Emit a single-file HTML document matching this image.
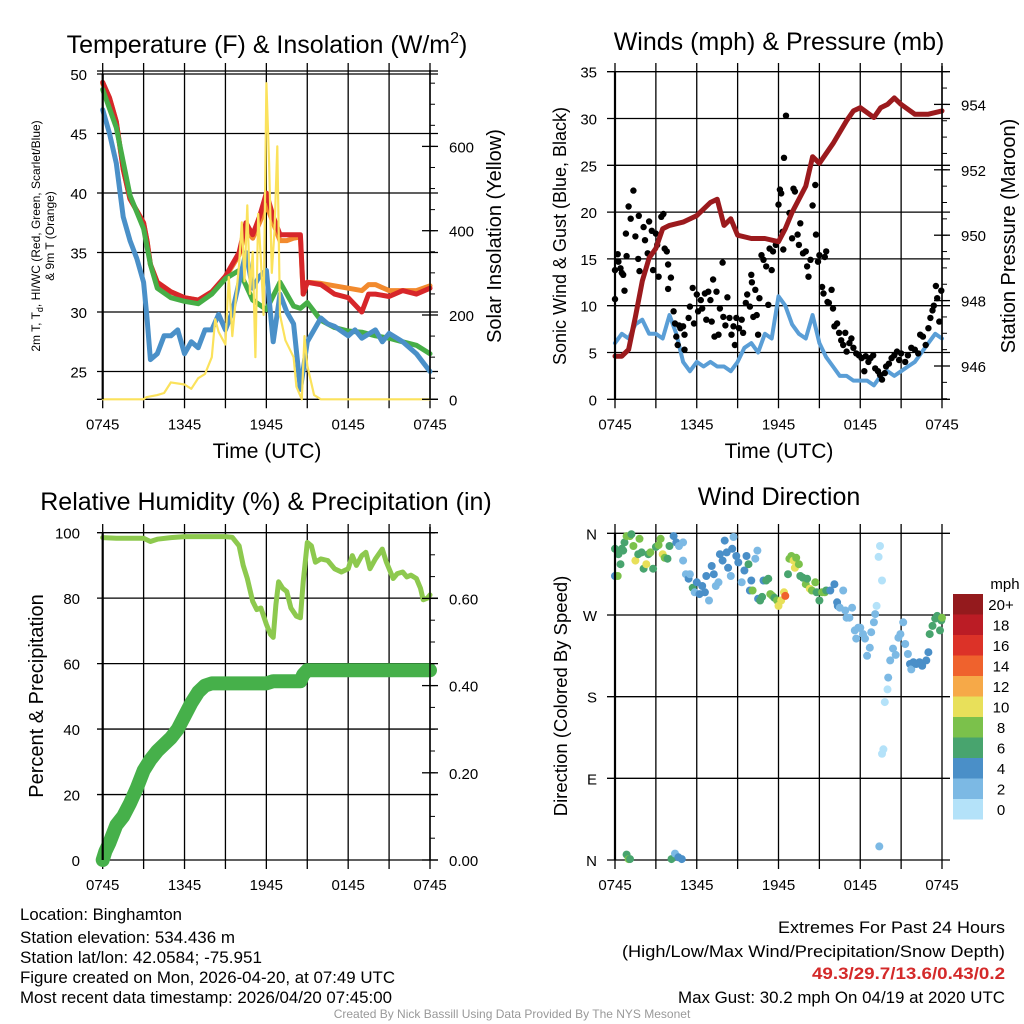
<!DOCTYPE html>
<html><head><meta charset="utf-8"><style>
html,body{margin:0;padding:0;background:#fff;}
svg{display:block;font-family:"Liberation Sans",Arial,sans-serif;}
</style></head><body>
<svg id="s" width="1024" height="1024" viewBox="0 0 1024 1024">
<g id="grid"></g>
<g id="marks"></g>
<g id="axes"></g>
<g font-size="25" text-anchor="middle" fill="#000">
<text x="267" y="53">Temperature (F) &amp; Insolation (W/m<tspan dy="-10" font-size="16">2</tspan><tspan dy="10">)</tspan></text>
<text x="779" y="50">Winds (mph) &amp; Pressure (mb)</text>
<text x="266" y="510">Relative Humidity (%) &amp; Precipitation (in)</text>
<text x="779" y="505">Wind Direction</text>
</g>
<g font-size="21" text-anchor="middle" fill="#000">
<text x="267" y="458">Time (UTC)</text>
<text x="779" y="458">Time (UTC)</text>
<text transform="translate(501,236) rotate(-90)" font-size="20">Solar Insolation (Yellow)</text>
<text transform="translate(566,236) rotate(-90)" font-size="18">Sonic Wind &amp; Gust (Blue, Black)</text>
<text transform="translate(1015,236) rotate(-90)" font-size="20">Station Pressure (Maroon)</text>
<text transform="translate(43,696) rotate(-90)" font-size="20">Percent &amp; Precipitation</text>
<text transform="translate(567,696) rotate(-90)" font-size="18.5">Direction (Colored By Speed)</text>
<text transform="translate(40,236) rotate(-90)" font-size="12">2m T, T<tspan dy="3" font-size="9">d</tspan><tspan dy="-3">, HI/WC (Red, Green, Scarlet/Blue)</tspan></text>
<text transform="translate(54,236) rotate(-90)" font-size="12">&amp; 9m T (Orange)</text>
<text x="1005" y="589" font-size="15">mph</text>
</g>
<g font-size="17" fill="#000">
<text x="20" y="920" textLength="162" lengthAdjust="spacingAndGlyphs">Location: Binghamton</text>
<text x="20" y="943" textLength="215" lengthAdjust="spacingAndGlyphs">Station elevation: 534.436 m</text>
<text x="20" y="963" textLength="242" lengthAdjust="spacingAndGlyphs">Station lat/lon: 42.0584; -75.951</text>
<text x="20" y="983" textLength="375" lengthAdjust="spacingAndGlyphs">Figure created on Mon, 2026-04-20, at 07:49 UTC</text>
<text x="20" y="1003" textLength="372" lengthAdjust="spacingAndGlyphs">Most recent data timestamp: 2026/04/20 07:45:00</text>
<g text-anchor="end">
<text x="1005" y="933" textLength="227" lengthAdjust="spacingAndGlyphs">Extremes For Past 24 Hours</text>
<text x="1005" y="957" textLength="383" lengthAdjust="spacingAndGlyphs">(High/Low/Max Wind/Precipitation/Snow Depth)</text>
<text x="1005" y="979" textLength="193" lengthAdjust="spacingAndGlyphs" fill="#d42a2a" font-weight="bold">49.3/29.7/13.6/0.43/0.2</text>
<text x="1005" y="1003" textLength="327" lengthAdjust="spacingAndGlyphs">Max Gust: 30.2 mph On 04/19 at 2020 UTC</text>
</g>
<text x="512" y="1018" font-size="12" fill="#999" text-anchor="middle">Created By Nick Bassill Using Data Provided By The NYS Mesonet</text>
</g>
</svg>
<script>
// ---------- data ----------
const xTickLabels = ["0745","1345","1945","0145","0745"];
const tempTimes = [0,0.5,1,1.5,2,2.5,3,3.25,3.5,4,5,6,7,8,9,10,10.5,11,11.5,12,12.5,13,13.5,14,14.5,14.7,15,16,17,18,19,19.5,20,21,22,23,24];
const redTemp =  [49.3,48,46,42,39.5,38.5,37.5,36,34,32.5,31.7,31.2,31.0,31.7,33,35,37.5,36.5,38,40,38,36.5,36.5,36.5,36.5,31.5,32.5,32.3,31.5,31.2,30,31.5,31.5,31.3,31.8,31.5,32];
const orangeTemp=[49.2,48,46,42,39.5,38.5,37.5,36,34,32.5,31.7,31.2,31.0,31.6,32.9,34.8,37,36.2,37.5,39,37.5,36,36,36.2,36.3,31.5,32.5,32.4,32.2,32,31.8,32.3,32.3,31.8,31.8,31.8,32.2];
const greenTimes=[0,1,2,3,3.5,4,5,6,7,8,9,10,11,12,13,13.5,14,14.5,15,16,17,18,19,20,21,22,23,24];
const greenTemp=[48.7,45.5,39.8,37,34,32,31.2,30.9,30.7,31.5,32.8,33.5,31,30.2,32.5,31.5,30.5,30.3,30.8,29.3,28.7,28.4,28.3,28,27.8,27.5,27.2,26.5];
const blueTimes=[0,0.5,1,1.5,2,2.5,3,3.25,3.5,4,4.5,5,5.5,6,6.5,7,7.5,8,8.5,9,9.5,10,10.5,11,11.5,12,12.5,13,13.5,14,14.5,15,15.5,16,16.5,17,18,18.5,19,20,20.5,21,22,23,24];
const blueTemp=[47,45,42.5,38,36,34.5,32.5,29.5,26,26.5,28,28,28.5,26.5,27.5,27,28.5,28.5,29.8,28.5,30,32.5,35,32,33,33.5,27.5,31.5,30,29,23.5,27.5,28.5,29.5,29,28.8,28,28.5,27.8,28.5,27.5,28.2,27.5,26.5,25];
const solarTimes=[0,3,3.2,4,4.5,5,6,6.5,7,7.5,8,8.25,8.5,9,9.25,9.5,10,10.2,10.4,10.6,10.8,11,11.2,11.4,11.6,11.8,12,12.2,12.4,12.6,12.8,13,13.4,14,14.2,14.6,14.8,15,15.5,16,24];
const solarValues=[0,0,5,10,15,40,35,25,50,60,100,190,160,130,290,150,320,420,280,460,250,350,100,440,330,200,750,560,300,400,600,200,140,100,30,0,150,80,10,0,0];
const pressTimes=[0,0.5,1,1.5,2,2.5,3,3.5,4,5,6,7,7.5,8,8.5,9,10,11,12,12.5,13,14,14.5,15,16,17,17.5,18,19,19.5,20,20.5,21,22,23,24];
const pressValues=[946.3,946.3,946.5,947.5,948.6,949.3,949.6,950.2,950.3,950.4,950.6,951,951.1,950.3,950.5,950,949.9,949.9,949.8,950.2,950.7,951.5,952.4,952.2,952.8,953.5,953.8,953.9,953.6,953.9,954,954.2,954,953.7,953.7,953.8];
const windTimes=[0,0.5,1,1.5,2,2.5,3,3.5,4,4.5,5,5.5,6,6.5,7,7.5,8,8.5,9,9.5,10,10.5,11,11.5,12,12.5,13,13.5,14,14.5,15,15.5,16,16.5,17,17.5,18,18.5,19,19.5,20,20.5,21,21.5,22,22.5,23,23.5,24];
const windValues=[6,7,6.5,8,8.5,7,7,6.5,9,7,4,3,4,3.5,4,3.5,3.5,3,4,5.5,6,5,7,6.5,11,10,8,7,6.5,9,6,4.5,3.5,2.5,2.5,2,2,2,1.5,2.5,3,2.5,3,3.5,4,5,6,7,6.5];
const gustTimes=[0,0,0.2,0.25,0.4,0.5,0.6,0.7,0.85,0.8,1.0,1.15,1.35,1.5,1.7,1.75,1.8,2.1,2.2,2.4,2.5,2.7,2.8,3.0,3.1,3.2,3.4,3.55,3.65,3.8,3.9,3.9,4.1,4.3,4.4,4.5,4.6,4.7,4.8,5.0,5.1,5.1,5.4,5.5,5.7,5.8,6.0,6.1,6.3,6.4,6.6,6.7,6.85,7.0,7.1,7.2,7.3,7.45,7.6,7.7,7.9,7.95,8.1,8.25,8.4,8.55,8.7,8.8,8.9,9.1,9.3,9.4,9.6,9.7,9.9,10.0,10.05,10.15,10.3,10.4,10.5,10.6,10.75,10.9,11.1,11.25,11.35,11.5,11.6,11.8,12.0,12.1,12.2,12.3,12.35,12.4,12.55,12.8,13.0,13.1,13.2,13.4,13.5,13.6,13.8,14.0,14.1,14.2,14.35,14.5,14.7,14.75,14.9,15.0,15.2,15.3,15.4,15.5,15.6,15.7,15.9,16.0,16.1,16.3,16.45,16.6,16.75,16.9,17.0,17.2,17.35,17.5,17.7,17.9,18.1,18.3,18.4,18.6,18.75,18.95,19.1,19.3,19.45,19.6,19.8,19.9,20.1,20.3,20.5,20.7,20.85,21.0,21.3,21.5,21.75,22.0,22.25,22.4,22.6,22.8,23.0,23.15,23.3,23.4,23.55,23.65,23.8,23.95];
const gustValues=[13.8,10.7,15.5,14.7,14,13.5,13.3,11.6,15.3,17.7,20.6,19.3,22.3,17.4,15,19.6,13.7,18.4,17,15.6,19,18,13.8,17.7,16.5,13.1,19.5,19.8,16.1,15.8,14.4,11.8,13,9.4,8.1,6.7,5.8,7.9,7.6,7.8,5.3,6.9,8.7,9.9,11.9,8.1,11.2,9.4,10.6,9.7,11.3,8.5,11.5,10.6,8.3,12.8,6.7,11.5,6.9,9.7,14.6,8.8,7.9,10.9,8.7,6.9,7.8,5.8,8.7,7.6,8.5,7.1,10.3,11.2,9.9,13.3,12.5,8.8,11.7,9.0,6.9,10.8,15.4,14.9,14.2,10.1,16.1,13.8,15.8,16.5,20.8,22.4,22,17.9,16,25.8,30.3,19.9,17.2,22.5,22.2,17.6,16.5,18.8,15.6,15.8,14.2,13.1,14.9,20.7,22.9,17.6,14.7,15.4,12,11.3,15.2,15.8,10.4,10.3,11.7,9.7,7.8,8.1,7.1,6.3,5.8,7.1,5.1,6.0,6.5,5.5,4.9,4.7,4.4,3.0,4.6,4.0,4.4,4.7,3.3,3.0,2.6,2.1,2.8,3.5,3.8,4.4,4.7,5.1,4.2,4.9,4.0,4.7,5.5,5.3,4.9,6.9,6.7,5.8,7.6,8.7,9.5,10,12.1,10.8,8.3,11.6];
const rhTimes=[0,1,2,3,3.5,4,5,6,7,8,9,9.5,10,10.3,10.6,11,11.3,11.6,12,12.3,12.5,12.7,12.9,13.2,13.5,13.8,14.2,14.5,14.7,15,15.3,15.6,16,16.5,17,17.5,18,18.3,18.6,19,19.3,19.6,20,20.5,20.8,21,21.3,21.6,22,22.3,22.6,23,23.3,23.5,23.8,24];
const rhValues=[98.5,98.3,98.3,98.3,97.3,98,98.5,98.8,98.8,98.8,98.8,98.6,96,90,86,79,76.5,77,72,69,68,78,85,83,82,77,74.5,74,85,97,96,91,92,91.5,89,88,89,93,90,93,94,89,92,95,91,89,86,87.5,88,86.5,87,86,83,79.5,80,81];
const precipTimes=[0,0.2,0.5,1,1.5,2,2.5,3,3.5,4,5,5.5,6,6.5,7,7.5,8,12,12.5,14.5,14.7,15,24];
const precipValues=[0,0.02,0.04,0.08,0.1,0.13,0.165,0.205,0.23,0.25,0.28,0.3,0.33,0.36,0.385,0.4,0.405,0.405,0.41,0.41,0.425,0.435,0.435];
const dirTimes=[0,0,0.2,0.25,0.4,0.5,0.6,0.7,0.85,1.1,1.2,1.35,1.5,1.7,1.8,1.95,2.1,2.3,2.45,2.6,2.8,3.0,3.2,3.35,3.5,3.65,3.85,4.0,4.3,4.5,4.7,5.0,5.0,5.2,5.4,5.5,5.7,5.85,6.0,6.2,6.4,6.6,6.7,6.9,7.1,7.25,7.4,7.6,7.7,7.9,8.05,8.2,8.3,8.5,8.6,8.7,8.9,9.05,9.3,9.5,9.65,9.8,9.9,10.0,10.1,10.3,10.45,10.5,10.65,10.8,10.9,11.1,11.25,11.4,11.55,11.7,11.9,12.0,12.2,12.4,12.5,12.7,12.8,12.95,13.1,13.2,13.3,13.5,13.6,13.8,14.0,14.1,14.3,14.45,14.7,14.8,15.0,15.2,15.4,15.5,15.8,16.1,16.3,16.35,16.5,16.75,16.9,17.0,17.2,17.4,17.6,17.7,17.85,18.0,18.2,18.35,18.5,18.7,18.8,19.0,19.1,19.2,19.35,19.45,19.6,20.05,20.0,19.8,19.7,19.6,19.4,20.2,20.4,20.6,20.8,20.95,21.15,21.3,21.5,21.65,21.75,21.9,22.1,22.35,22.55,22.85,23.0,23.1,23.3,23.5,23.65,23.85,23.95,24.0,0.85,1.0,1.1,4.15,4.4,4.65,4.9];
const dirValues=[343,313,313,337,326,343,341,350,357,357,359,346,330,337,354,339,321,326,337,339,321,345,347,354,337,333,332,346,357,350,346,350,330,315,310,315,300,295,306,293,302,295,313,286,324,315,302,306,337,330,352,339,322,313,343,356,335,328,306,319,335,326,297,308,297,332,341,288,286,290,308,308,310,293,291,289,286,280,286,295,291,315,332,335,330,322,333,326,313,311,304,310,299,297,306,295,286,295,295,297,297,304,284,280,278,297,275,267,267,278,253,244,256,256,249,244,225,234,251,262,271,280,334,346,308,201,188,174,122,117,15,220,233,226,245,249,262,238,227,216,210,218,216,218,214,220,229,249,258,266,269,253,264,267,6,1,1,1,7,3,1];
const dirSpeeds=[6,4,8,6,6,6,6,6,8,8,6,8,10,6,8,6,6,10,6,8,6,6,8,8,10,8,6,6,4,4,2,2,2,2,4,2,6,2,4,4,4,4,4,2,4,4,2,2,4,4,4,4,4,2,4,2,4,4,2,4,4,6,4,4,8,2,2,4,6,6,4,6,6,8,8,6,8,10,10,10,14,6,8,8,10,10,8,8,6,6,8,6,10,8,8,6,6,8,8,6,4,4,4,4,2,2,2,2,2,2,2,2,2,2,2,2,2,2,2,2,2,0,0,0,0,2,0,0,0,0,2,2,2,2,2,2,2,2,2,4,2,4,4,4,4,4,4,6,6,6,6,6,6,8,6,8,6,6,2,4,4];
const speedClasses=["0","2","4","6","8","10","12","14","16","18","20+"];
const speedColors=["#b4e2f9","#7cb9e4","#4a8fc8","#48a46e","#7bc14b","#e8e05a","#f6a948","#ef622d","#dc3228","#bb1c25","#941a1d"];
const p1LeftTicks=[25,30,35,40,45,50];
const p1RightTicks=[0,200,400,600];
const p2LeftTicks=[0,5,10,15,20,25,30,35];
const p2RightTicks=[946,948,950,952,954];
const p3LeftTicks=[0,20,40,60,80,100];
const p3RightTicks=[0,0.2,0.4,0.6];
const dirTicks=[0,90,180,270,360];
const dirLabels=["N","E","S","W","N"];

// ---------- scales ----------
const NS="http://www.w3.org/2000/svg";
const G=document.getElementById('grid'),M=document.getElementById('marks'),A=document.getElementById('axes');
function mk(tag,parent,attrs){const e=document.createElementNS(NS,tag);for(const k in attrs)e.setAttribute(k,attrs[k]);parent.appendChild(e);return e;}
const xL=t=>102.7+t*(327.3/24), xR=t=>615+t*(327/24);
const y1L=v=>74+(50-v)*11.9, y1R=v=>399.3-v*0.4215;
const y2L=v=>399.3-v*9.36, y2R=p=>366-(p-946)*32.7;
const y3L=v=>860-v*3.273, y3R=v=>860-v*436;
const y4=d=>860-d*0.9074;
function pts(ts,vs,xf,yf){return ts.map((t,i)=>xf(t).toFixed(1)+','+yf(vs[i]).toFixed(1)).join(' ');}
function line(ts,vs,xf,yf,col,w,name){const e=mk('polyline',M,{points:pts(ts,vs,xf,yf),fill:'none',stroke:col,'stroke-width':w,'stroke-linejoin':'round','stroke-linecap':'round'});

return e;}

function frame(xf,yTop,yBot,hVals,yf,xa,xb,gridTop){
 for(let h=0;h<=24;h+=3){const x=xf(h);const l=mk('line',G,{x1:x,x2:x,y1:gridTop,y2:yBot+9,stroke:'#000','stroke-width':1.3});
 
 }
 hVals.forEach(v=>{const y=yf(v);const l=mk('line',G,{x1:xa,x2:xb,y1:y,y2:y,stroke:'#000','stroke-width':1.3});
 
 });
 const L=mk('line',A,{x1:xf(0),x2:xf(0),y1:yTop,y2:yBot,stroke:'#000','stroke-width':2.2});
 
 
 xTickLabels.forEach((s,i)=>{const t=mk('text',A,{x:xf(i*6),y:yBot+30,'font-size':15,'text-anchor':'middle'});t.textContent=s;
 
 });
}
function leftLabels(vals,labels,yf,x){vals.forEach((v,i)=>{const t=mk('text',A,{x:x,y:yf(v)+6,'font-size':15,'text-anchor':'end'});t.textContent=labels[i];
 
 });}
function rightAxis(x,yTop,yBot,vals,labels,yf,minor){
 const L=mk('line',A,{x1:x,x2:x,y1:yTop,y2:yBot,stroke:'#000','stroke-width':1.5});
 
 
 minor.forEach(v=>{const y=yf(v);if(y<yTop-1||y>yBot+1)return;const l=mk('line',A,{x1:x,x2:x+5,y1:y,y2:y,stroke:'#000','stroke-width':1});
 
 });
 vals.forEach((v,i)=>{const y=yf(v);const l=mk('line',A,{x1:x-8,x2:x+8,y1:y,y2:y,stroke:'#000','stroke-width':1.3});
 
 
 const t=mk('text',A,{x:x+19,y:y+6,'font-size':15});t.textContent=labels[i];
 
 });
}
function rng(a,b,s){const r=[];for(let v=a;v<=b+1e-9;v+=s)r.push(+v.toFixed(3));return r;}

// Panel 1
frame(xL,74,399.3,p1LeftTicks,y1L,97,438,63);
mk('line',G,{x1:97,x2:438,y1:71,y2:71,stroke:'#000','stroke-width':1.3});
mk('line',G,{x1:97,x2:438,y1:399.3,y2:399.3,stroke:'#000','stroke-width':1.3});
leftLabels(p1LeftTicks,p1LeftTicks.map(String),y1L,87);
rightAxis(430,70,399.3,p1RightTicks,p1RightTicks.map(String),y1R,rng(0,750,50));
line(tempTimes,orangeTemp,xL,y1L,'#f28a2e',5,'orange-9m-temperature-line');
line(tempTimes,redTemp,xL,y1L,'#d7262a',5,'red-2m-temperature-line');
line(greenTimes,greenTemp,xL,y1L,'#46ae46',5,'green-dewpoint-line');
line(blueTimes,blueTemp,xL,y1L,'#4a90c8',5,'blue-wind-chill-line');
line(solarTimes,solarValues,xL,y1R,'#fbe25c',2.2,'yellow-solar-insolation-line');

// Panel 2
frame(xR,71.7,399.3,p2LeftTicks,y2L,607,950,63);
leftLabels(p2LeftTicks,p2LeftTicks.map(String),y2L,597);
rightAxis(942,66,399.3,p2RightTicks,p2RightTicks.map(String),y2R,rng(945,955,0.5));
line(windTimes,windValues,xR,y2L,'#5a9ed6',4,'blue-sonic-wind-line');
gustTimes.forEach((t,i)=>{const c=mk('circle',M,{cx:xR(t).toFixed(1),cy:y2L(gustValues[i]).toFixed(1),r:3.2,fill:'#000'});
 
 });
line(pressTimes,pressValues,xR,y2R,'#9b1a1d',5,'maroon-pressure-line');

// Panel 3
frame(xL,532.7,860,p3LeftTicks,y3L,97,438,524);
leftLabels(p3LeftTicks,p3LeftTicks.map(String),y3L,80);
rightAxis(430,527,860,p3RightTicks,p3RightTicks.map(v=>v.toFixed(2)),y3R,rng(0,0.75,0.05));
line(rhTimes,rhValues,xL,y3L,'#8dc94e',5,'relative-humidity-line');
line(precipTimes,precipValues,xL,y3R,'#46b04a',14,'precipitation-line');

// Panel 4
frame(xR,532.7,860,dirTicks,y4,607,950,524);
leftLabels(dirTicks,dirLabels,y4,597);
dirTimes.forEach((t,i)=>{const c=mk('circle',M,{cx:xR(t).toFixed(1),cy:y4(dirValues[i]).toFixed(1),r:4,fill:speedColors[Math.min(10,Math.round(dirSpeeds[i]/2))]});
 
 });
// colorbar
speedClasses.forEach((s,i)=>{const k=10-i;const y=594+i*20.5;
 const r=mk('rect',A,{x:953,y:y,width:30,height:20.5,fill:speedColors[k]});
 
 
 const t=mk('text',A,{x:1001,y:y+16,'font-size':15,'text-anchor':'middle'});t.textContent=speedClasses[k];
 
 });
</script>
</body></html>
